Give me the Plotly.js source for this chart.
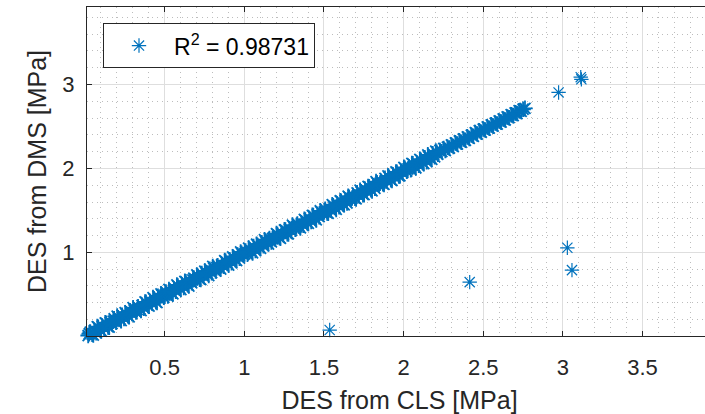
<!DOCTYPE html>
<html>
<head>
<meta charset="utf-8">
<script src="https://cdn.plot.ly/plotly-3.0.1.min.js"></script>
<style>html,body{margin:0;padding:0;overflow:hidden;background:#fff;}</style>
</head>
<body>
<div id="chart"></div>
<script>
// Dense band of points (lower edge)
var bandLowX = [0.020,0.045,0.070,0.095,0.120,0.145,0.170,0.195,0.220,0.245,0.270,0.295,0.320,0.345,0.370,0.395,0.420,0.445,0.470,0.495,0.520,0.545,0.570,0.595,0.620,0.645,0.670,0.695,0.720,0.745,0.770,0.795,0.820,0.845,0.870,0.895,0.920,0.945,0.970,0.995,1.020,1.045,1.070,1.095,1.120,1.145,1.170,1.195,1.220,1.245,1.270,1.295,1.320,1.345,1.370,1.395,1.420,1.445,1.470,1.495,1.520,1.545,1.570,1.595,1.620,1.645,1.670,1.695,1.720,1.745,1.770,1.795,1.820,1.845,1.870,1.895,1.920,1.945,1.970,1.995,2.020,2.045,2.070,2.095,2.120,2.145,2.170,2.195];
var bandLowY = [0.010,0.026,0.043,0.080,0.096,0.113,0.152,0.168,0.206,0.214,0.246,0.274,0.290,0.327,0.336,0.368,0.399,0.412,0.453,0.465,0.481,0.519,0.538,0.574,0.583,0.616,0.638,0.671,0.682,0.714,0.748,0.758,0.778,0.816,0.836,0.869,0.878,0.912,0.932,0.970,0.979,1.011,1.023,1.064,1.081,1.116,1.126,1.157,1.178,1.215,1.222,1.259,1.277,1.311,1.324,1.355,1.369,1.410,1.426,1.457,1.469,1.502,1.536,1.546,1.578,1.589,1.631,1.647,1.675,1.692,1.732,1.747,1.764,1.801,1.818,1.854,1.865,1.896,1.911,1.950,1.968,1.986,2.027,2.039,2.070,2.081,2.124,2.139];
// Dense band of points (middle, scattered)
var bandMidX = [0.027,0.052,0.077,0.102,0.127,0.152,0.177,0.202,0.227,0.252,0.277,0.302,0.327,0.352,0.377,0.402,0.427,0.452,0.477,0.502,0.527,0.552,0.577,0.602,0.627,0.652,0.677,0.702,0.727,0.752,0.777,0.802,0.827,0.852,0.877,0.902,0.927,0.952,0.977,1.002,1.027,1.052,1.077,1.102,1.127,1.152,1.177,1.202,1.227,1.252,1.277,1.302,1.327,1.352,1.377,1.402,1.427,1.452,1.477,1.502,1.527,1.552,1.577,1.602,1.627,1.652,1.677,1.702,1.727,1.752,1.777,1.802,1.827,1.852,1.877,1.902,1.927,1.952,1.977,2.002,2.027,2.052,2.077,2.102,2.127,2.152,2.177,2.202];
var bandMidY = [0.031,0.016,0.116,0.063,0.161,0.109,0.180,0.241,0.187,0.281,0.233,0.341,0.318,0.308,0.409,0.360,0.462,0.403,0.505,0.492,0.558,0.506,0.612,0.558,0.655,0.599,0.672,0.731,0.677,0.777,0.724,0.832,0.818,0.802,0.902,0.848,0.947,0.902,1.005,0.982,1.051,0.994,1.098,1.048,1.151,1.100,1.163,1.224,1.168,1.269,1.221,1.326,1.304,1.292,1.394,1.345,1.441,1.387,1.496,1.482,1.466,1.568,1.513,1.615,1.568,1.669,1.648,1.638,1.741,1.689,1.786,1.733,1.843,1.825,1.811,1.912,1.857,1.958,1.911,2.013,1.994,2.060,2.006,2.108,2.058,2.162,2.109,2.207];
// Dense band of points (upper edge)
var bandHighX = [0.033,0.058,0.083,0.108,0.133,0.158,0.183,0.208,0.233,0.258,0.283,0.308,0.333,0.358,0.383,0.408,0.433,0.458,0.483,0.508,0.533,0.558,0.583,0.608,0.633,0.658,0.683,0.708,0.733,0.758,0.783,0.808,0.833,0.858,0.883,0.908,0.933,0.958,0.983,1.008,1.033,1.058,1.083,1.108,1.133,1.158,1.183,1.208,1.233,1.258,1.283,1.308,1.333,1.358,1.383,1.408,1.433,1.458,1.483,1.508,1.533,1.558,1.583,1.608,1.633,1.658,1.683,1.708,1.733,1.758,1.783,1.808,1.833,1.858,1.883,1.908,1.933,1.958,1.983,2.008,2.033,2.058,2.083,2.108,2.133,2.158,2.183,2.208];
var bandHighY = [0.050,0.069,0.108,0.122,0.155,0.165,0.209,0.222,0.251,0.268,0.304,0.314,0.351,0.369,0.405,0.414,0.447,0.476,0.490,0.529,0.544,0.559,0.598,0.615,0.650,0.660,0.694,0.715,0.748,0.759,0.799,0.811,0.841,0.856,0.894,0.913,0.933,0.970,0.988,1.015,1.029,1.071,1.083,1.113,1.131,1.166,1.176,1.213,1.233,1.267,1.277,1.309,1.339,1.349,1.385,1.404,1.438,1.451,1.480,1.515,1.523,1.556,1.576,1.609,1.619,1.657,1.676,1.710,1.721,1.752,1.781,1.793,1.828,1.848,1.883,1.895,1.925,1.954,1.966,2.001,2.021,2.055,2.066,2.098,2.128,2.137,2.175,2.192];
// Sparser upper end of the band
var tailX = [2.215,2.228,2.240,2.252,2.262,2.275,2.288,2.300,2.312,2.325,2.338,2.350,2.362,2.375,2.388,2.400,2.412,2.425,2.438,2.450,2.462,2.475,2.488,2.500,2.512,2.525,2.538,2.550,2.562,2.575,2.588,2.600,2.612,2.625,2.638,2.650,2.662,2.675,2.688,2.700,2.712,2.725,2.738,2.750,2.762];
var tailY = [2.170,2.215,2.200,2.238,2.214,2.255,2.242,2.280,2.262,2.305,2.290,2.330,2.313,2.352,2.336,2.376,2.358,2.398,2.384,2.428,2.410,2.450,2.432,2.470,2.458,2.496,2.480,2.520,2.505,2.541,2.530,2.566,2.552,2.590,2.578,2.614,2.605,2.640,2.630,2.662,2.655,2.688,2.680,2.706,2.716];
// Outliers
var outX = [1.536,2.415,2.973,3.028,3.057,3.112,3.116];
var outY = [0.075,0.646,2.906,1.055,0.789,3.088,3.062];

var legendLabel = 'R<sup>2</sup> = 0.98731';

var bandXs = bandLowX.concat(bandMidX, bandHighX, tailX);
var bandYs = bandLowY.concat(bandMidY, bandHighY, tailY);

var font = 'Liberation Sans, Arial, Helvetica, sans-serif';
var axisCol = '#262626';
var blue = '#0072BD';

var bandTrace = {
  x: bandXs, y: bandYs, type: 'scatter', mode: 'markers', name: legendLabel,
  showlegend: false, cliponaxis: false,
  marker: {symbol: 'asterisk-open', size: 13, color: blue, line: {color: blue, width: 1.8}}
};
var outTrace = {
  x: outX, y: outY, type: 'scatter', mode: 'markers', name: legendLabel,
  showlegend: true, cliponaxis: false,
  marker: {symbol: 'asterisk-open', size: 12, color: blue, line: {color: blue, width: 1.2}}
};

function axisBase(extra) {
  var a = {
    showline: true, linecolor: axisCol, linewidth: 1, mirror: 'ticks',
    ticks: 'inside', ticklen: 5, tickwidth: 1, tickcolor: axisCol,
    showgrid: true, gridcolor: '#dedede', gridwidth: 1,
    zeroline: false, automargin: false,
    tickfont: {family: font, size: 22, color: axisCol}
  };
  for (var k in extra) a[k] = extra[k];
  return a;
}

var layout = {
  width: 712, height: 414,
  margin: {l: 87, r: 0, t: 7, b: 78},
  paper_bgcolor: '#ffffff', plot_bgcolor: '#ffffff',
  font: {family: font, color: axisCol},
  showlegend: true,
  xaxis: axisBase({
    range: [0.0126, 3.936], tick0: 0, dtick: 0.5, ticklabelstandoff: 12,
    minor: {tick0: 0, dtick: 0.1, showgrid: true, gridcolor: '#bdbdbd', griddash: '1px,4px', gridwidth: 1, ticks: ''},
    title: {text: 'DES from CLS [MPa]', font: {family: font, size: 25, color: axisCol}, standoff: 12}
  }),
  yaxis: axisBase({
    range: [0.004, 3.924], tick0: 0, dtick: 1, ticklabelstandoff: 7,
    minor: {tick0: 0, dtick: 0.2, showgrid: true, gridcolor: '#bdbdbd', griddash: '1px,4px', gridwidth: 1, ticks: ''},
    title: {text: 'DES from DMS [MPa]', font: {family: font, size: 25, color: axisCol}, standoff: 8}
  }),
  legend: {
    x: 0.0256, y: 0.951, xanchor: 'left', yanchor: 'top',
    bgcolor: '#ffffff', bordercolor: axisCol, borderwidth: 1,
    font: {family: font, size: 23, color: '#000000'}, itemwidth: 60
  }
};

Plotly.newPlot('chart', [bandTrace, outTrace], layout, {displayModeBar: false, staticPlot: true});
</script>
</body>
</html>
